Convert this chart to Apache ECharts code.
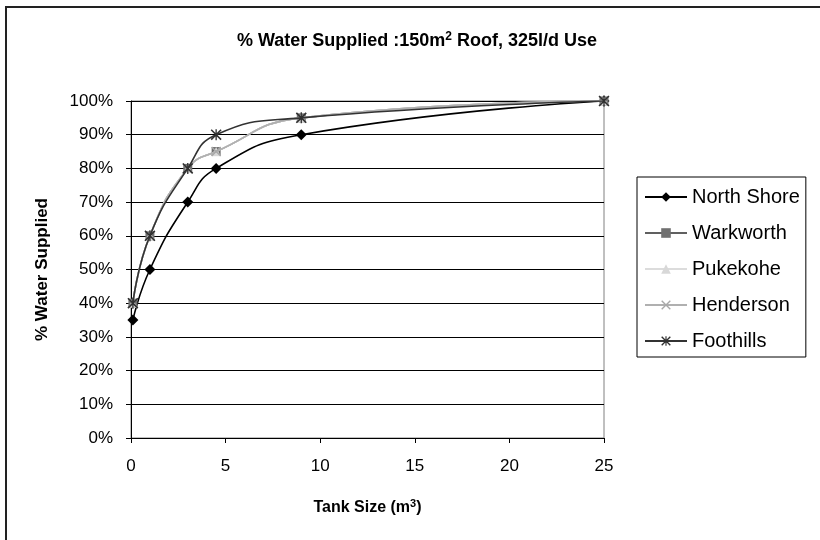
<!DOCTYPE html>
<html>
<head>
<meta charset="utf-8">
<script src="https://cdn.jsdelivr.net/npm/echarts@6/dist/echarts.min.js"></script>
<style>
html,body{margin:0;padding:0;background:#fff;}
#chart{width:820px;height:540px;}
</style>
</head>
<body>
<div id="chart"></div>
<script>
// ---- data ----
const tankSizes = [0.1, 1, 3, 4.5, 9, 25];
const northShore = [35, 50, 70, 80, 90, 100];
const warkworth  = [40, 60, 80, 85, 95, 100];
const pukekohe   = [40, 60, 80, 85, 95, 100];
const henderson  = [40, 60, 80, 85, 95, 100];
const foothills  = [40, 60, 80, 90, 95, 100];
const seriesNames = ['North Shore', 'Warkworth', 'Pukekohe', 'Henderson', 'Foothills'];
const xTicks = [0, 5, 10, 15, 20, 25];
const yTicks = [0, 10, 20, 30, 40, 50, 60, 70, 80, 90, 100];

const FONT = '"Liberation Sans", Arial, sans-serif';
const xPath = 'path://M0,1 L1,0 L10,9 L9,10 Z M9,0 L10,1 L1,10 L0,9 Z';
const starPath = 'path://M0,1 L1,0 L10,9 L9,10 Z M9,0 L10,1 L1,10 L0,9 Z M4.4,0 L5.6,0 L5.6,10 L4.4,10 Z';

function pts(ys){ return tankSizes.map((x,i)=>[x, ys[i]]); }

const styles = [
  {data: northShore, color:'#000000', line:'#000000', symbol:'diamond', size:11},
  {data: warkworth,  color:'#707070', line:'#606060', symbol:'rect', size:9},
  {data: pukekohe,   color:'#d8d8d8', line:'#dcdcdc', symbol:'triangle', size:9},
  {data: henderson,  color:'#a8a8a8', line:'#b0b0b0', symbol:xPath, size:10},
  {data: foothills,  color:'#303030', line:'#333333', symbol:starPath, size:11}
];

const chart = echarts.init(document.getElementById('chart'), null, {renderer:'canvas'});
chart.setOption({
  animation:false,
  backgroundColor:'#ffffff',
  title:{
    text:'% Water Supplied :150m{sup|2} Roof, 325l/d Use',
    left:412, top:26, textAlign:'center',
    textStyle:{
      fontFamily:FONT, fontSize:18, fontWeight:'bold', color:'#000',
      rich:{ sup:{fontFamily:FONT, fontSize:12, fontWeight:'bold', verticalAlign:'top', padding:[0,0,8,0], color:'#000'} }
    }
  },
  graphic:[{
    type:'rect', shape:{x:6, y:7, width:900, height:900},
    style:{fill:'none', stroke:'#222', lineWidth:2}, silent:true, z:-1
  }],
  legend:{
    orient:'vertical', left:637, top:177,
    data:seriesNames,
    itemWidth:42, itemHeight:12, itemGap:16,
    padding:[10,6,6,7],
    borderColor:'#000', borderWidth:1,
    textStyle:{fontFamily:FONT, fontSize:20, color:'#000'}
  },
  grid:{left:131, right:216, top:101, bottom:102, show:true, borderColor:'#808080', borderWidth:1},
  xAxis:{
    type:'value', min:0, max:25, interval:5,
    name:'Tank Size (m{sup|3})', nameLocation:'middle', nameGap:60,
    nameTextStyle:{fontFamily:FONT, fontSize:16, fontWeight:'bold', color:'#000',
      rich:{sup:{fontFamily:FONT, fontSize:11, fontWeight:'bold', verticalAlign:'top', padding:[0,0,8,0], color:'#000'}}},
    axisLine:{lineStyle:{color:'#000', width:1}},
    axisTick:{show:true, length:5, lineStyle:{color:'#000'}},
    axisLabel:{fontFamily:FONT, fontSize:17, color:'#000', margin:20,
      formatter:function(v){ return xTicks.indexOf(v) >= 0 ? String(v) : ''; }},
    splitLine:{show:false}
  },
  yAxis:{
    type:'value', min:0, max:100, interval:10,
    name:'% Water Supplied', nameLocation:'middle', nameGap:80, nameRotate:90,
    nameTextStyle:{fontFamily:FONT, fontSize:17, fontWeight:'bold', color:'#000'},
    axisLine:{show:true, lineStyle:{color:'#000', width:1}},
    axisTick:{show:true, length:5, lineStyle:{color:'#000'}},
    axisLabel:{fontFamily:FONT, fontSize:17, color:'#000', margin:18,
      formatter:function(v){ return yTicks.indexOf(v) >= 0 ? v + '%' : ''; }},
    splitLine:{show:true, lineStyle:{color:'#000', width:1}}
  },
  series: styles.map((s,i)=>({
    name:seriesNames[i], type:'line', data:pts(s.data),
    smooth:0.5,
    symbol:s.symbol, symbolSize:s.size, showSymbol:true,
    lineStyle:{color:s.line, width:1.6},
    itemStyle:{color:s.color, borderColor:s.color, borderWidth:0},
    z:2+i
  }))
});
</script>
</body>
</html>
